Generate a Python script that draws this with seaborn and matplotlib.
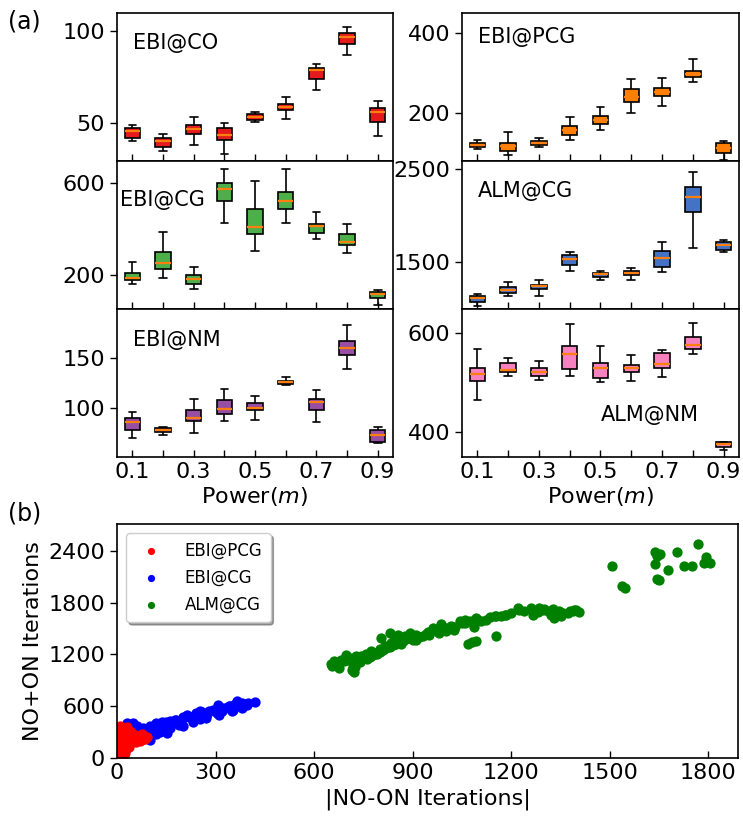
import numpy as np
import pandas as pd
import matplotlib
matplotlib.use("Agg")
import matplotlib.pyplot as plt
import seaborn as sns

sns.set_style("ticks")
plt.rcParams['font.family'] = ['DejaVu Sans']
plt.rcParams.update({'text.color': 'black', 'axes.labelcolor': 'black',
                     'xtick.color': 'black', 'ytick.color': 'black',
                     'axes.edgecolor': 'black'})

# ---- box data (whislo, q1, median, q3, whishi) per power 0.1 .. 0.9 ----
POWERS = ['0.1', '0.2', '0.3', '0.4', '0.5', '0.6', '0.7', '0.8', '0.9']

ebi_co = [[39.7, 41.8, 45.3, 46.9, 48.6], [34.6, 36.8, 39.9, 41.8, 43.7],
          [37.9, 43.7, 46.4, 48.7, 52.9], [32.8, 40.4, 43.5, 47.1, 49.8],
          [50.5, 51.4, 52.9, 54.9, 55.8], [51.8, 56.7, 58.5, 60.3, 63.9],
          [67.9, 73.9, 79.0, 79.9, 82.1], [87.0, 93.1, 97.1, 98.9, 102.4],
          [42.9, 50.5, 55.8, 58.2, 62.1]]
ebi_cg = [[158, 177, 187, 209, 255], [183, 223, 252, 300, 384],
          [136, 159, 180, 196, 232], [423, 519, 571, 601, 659],
          [304, 378, 409, 486, 607], [426, 487, 522, 558, 659],
          [357, 381, 412, 420, 472], [294, 329, 342, 378, 422],
          [67, 97, 114, 123, 133]]
ebi_nm = [[69.6, 77.4, 85.5, 89.2, 95.9], [72.6, 75.7, 77.7, 79.4, 80.4],
          [74.7, 86.8, 89.5, 97.0, 108.8], [86.8, 93.2, 98.3, 107.1, 118.9],
          [87.8, 97.6, 99.0, 104.4, 111.8], [122.6, 123.6, 125.7, 127.0, 130.7],
          [85.5, 97.6, 105.4, 108.1, 117.2], [138.5, 153.4, 160.1, 167.2, 183.4],
          [64.5, 65.2, 72.6, 77.0, 80.7]]
ebi_pcg = [[110.4, 114.5, 120.3, 124.5, 132.8], [93.8, 105.4, 116.2, 125.3, 152.7],
           [113.7, 120.3, 124.5, 129.5, 137.8], [132.8, 144.4, 158.5, 167.6, 190.9],
           [156.8, 172.6, 181.7, 192.5, 215.8], [200.0, 227.4, 240.7, 260.6, 283.8],
           [216.6, 243.2, 252.3, 262.2, 286.3], [276.3, 288.8, 297.9, 305.4, 333.6],
           [82.2, 100.4, 112.9, 125.3, 131.1]]
alm_cg = [[1030, 1070, 1113, 1138, 1156], [1138, 1170, 1203, 1235, 1289],
          [1145, 1210, 1242, 1263, 1310], [1410, 1478, 1536, 1575, 1615],
          [1310, 1349, 1371, 1389, 1410], [1314, 1364, 1389, 1407, 1439],
          [1400, 1450, 1550, 1618, 1722], [1651, 2041, 2206, 2306, 2468],
          [1615, 1636, 1686, 1715, 1744]]
alm_nm = [[464.9, 502.7, 518.2, 529.7, 568.9], [512.8, 522.3, 525.0, 540.5, 550.0],
          [504.7, 513.5, 521.6, 529.1, 542.6], [513.5, 527.7, 557.4, 574.3, 618.2],
          [501.4, 509.5, 529.1, 539.2, 573.6], [502.7, 522.3, 529.7, 535.1, 555.4],
          [510.8, 529.1, 538.5, 559.5, 565.5], [556.8, 568.2, 575.7, 593.2, 620.9],
          [362.8, 368.9, 375.0, 379.1, 380.4]]

# ---- scatter data (|NO-ON|, NO+ON) ----
pcg_x = [2, 5, 8, 10, 12, 15, 18, 20, 5, 3, 25, 30, 22, 35, 40, 28, 45, 50, 55, 60,
         70, 80, 38, 15, 10, 25, 4, 8, 12, 18, 32, 42, 65, 85, 20, 6, 14, 48, 58, 75,
         30, 20, 50, 60, 45, 35, 25, 8, 70, 90]
pcg_y = [340, 300, 250, 200, 150, 100, 60, 30, 120, 80, 350, 290, 250, 230, 260, 180,
         220, 200, 240, 210, 230, 220, 160, 280, 370, 310, 20, 50, 340, 200, 330, 300,
         250, 225, 140, 180, 240, 270, 190, 280,
         360, 330, 280, 260, 190, 130, 60, 10, 200, 240]
cg_x = [419, 384, 364, 344, 308, 293, 252, 242, 212, 202, 181, 161, 136, 121, 100,
        90, 70, 50, 45, 29, 19, 9, 60, 40, 100, 152, 202, 252, 303, 354, 50, 29,
        330, 275, 225, 170, 110, 80, 395, 320, 265, 190, 145, 125, 60, 35,
        60, 80, 120, 150, 175, 200, 220, 240, 260, 280, 300, 320, 340, 360, 380, 400,
        30, 40, 20, 30, 70, 90, 130, 160, 190, 230, 270, 310, 350, 380, 120, 25, 15]
cg_y = [648, 628, 655, 598, 617, 560, 540, 501, 501, 463, 443, 424, 412, 386, 366,
        308, 289, 270, 193, 116, 58, 19, 366, 386, 212, 289, 366, 451, 521, 560, 405,
        405, 580, 510, 470, 420, 330, 300, 610, 540, 490, 400, 350, 330, 240, 160,
        330, 350, 400, 420, 440, 470, 480, 520, 530, 550, 560, 580, 600, 620, 640, 640,
        250, 300, 150, 200, 250, 270, 300, 350, 380, 420, 460, 500, 540, 580, 280, 90, 40]
alm_x = [1505, 1536, 1545, 1637, 1653, 1642, 1703, 1767, 1637, 1676, 1643, 1650,
         1726, 1749, 1792, 1785, 1806,
         1223, 1260, 1267, 1284, 1296, 1311, 1328, 1331, 1341, 1357, 1372, 1387, 1397,
         1154, 1169, 1184, 1154, 1068, 1093, 1081,
         652, 668, 683, 698, 708, 718, 728, 744, 759, 774, 784, 799, 804, 815, 830,
         835, 845, 855, 865, 875, 891, 901, 911, 931, 946, 961, 977, 987, 1002, 1017,
         1027, 1043, 1058, 1073, 1085, 1093, 1108, 1124, 1134,
         655, 670, 690, 715, 725, 740, 760, 780, 800, 820, 840, 860, 880, 900, 920,
         950, 980, 1000, 1030, 1060, 1090, 1180, 1240, 1280, 1320, 1345, 1380, 1405,
         700, 735, 770, 790, 810, 830, 850, 870, 890, 910, 940, 970, 1010, 1050, 1100,
         1150, 1200, 1220, 1300, 1350, 1390, 660, 676, 720]
alm_y = [2218, 1994, 1967, 2380, 2364, 2341, 2384, 2484, 2245, 2179, 2071, 2064,
         2222, 2218, 2326, 2264, 2257,
         1716, 1736, 1658, 1736, 1709, 1697, 1724, 1620, 1678, 1685, 1678, 1697, 1716,
         1639, 1647, 1658, 1408, 1323, 1350, 1338,
         1091, 1107, 1138, 1195, 1157, 1068, 1176, 1184, 1207, 1242, 1215, 1261, 1388,
         1300, 1446, 1331, 1377, 1427, 1323, 1408, 1446, 1408, 1361, 1408, 1465, 1504,
         1465, 1554, 1504, 1531, 1485, 1581, 1593, 1581, 1516, 1620, 1589, 1600, 1631,
         1060, 1080, 1120, 1020, 1050, 1110, 1150, 1190, 1230, 1270, 1310, 1330, 1380,
         1370, 1400, 1420, 1450, 1470, 1520, 1560, 1580, 1660, 1700, 1690, 1660, 1700,
         1700, 1690,
         1140, 1130, 1170, 1210, 1250, 1290, 1320, 1360, 1390, 1420, 1440, 1480, 1510,
         1560, 1600, 1640, 1680, 1740, 1720, 1650, 1710, 1120, 1040, 1000]

panels = [
    # name, data, color, ylim, yticks, text pos, axes rect (px)
    ('EBI@CO', ebi_co, '#e41a1c', (29, 110), [50, 100], (0.058, 0.80),
     [117, 13, 276, 148]),
    ('EBI@CG', ebi_cg, '#4daf4a', (50, 695), [200, 600], (0.011, 0.735),
     [117, 161, 276, 148]),
    ('EBI@NM', ebi_nm, '#984ea3', (50, 199.5), [100, 150], (0.058, 0.79),
     [117, 309, 276, 148]),
    ('EBI@PCG', ebi_pcg, '#ff7f00', (80, 449), [200, 400], (0.058, 0.838),
     [462, 13, 277, 148]),
    ('ALM@CG', alm_cg, '#4472c4', (1000, 2590), [1500, 2500], (0.058, 0.80),
     [462, 161, 277, 148]),
    ('ALM@NM', alm_nm, '#f781bf', (349, 649), [400, 600], (0.50, 0.284),
     [462, 309, 277, 148]),
]

W, H = 743, 822
fig = plt.figure(figsize=(W / 100, H / 100), dpi=100)


def rect(x, y, w, h):
    return [x / W, 1 - (y + h) / H, w / W, h / H]


for i, (name, stats, color, ylim, yticks, tpos, r) in enumerate(panels):
    ax = fig.add_axes(rect(*r))
    df = pd.DataFrame({'power': np.repeat(POWERS, 5),
                       'value': np.array(stats).ravel()})
    sns.boxplot(data=df, x='power', y='value', order=POWERS, ax=ax,
                color=color, saturation=1, width=0.5, whis=(0, 100),
                linecolor='black', linewidth=1.2,
                medianprops={'color': '#ff7f0e', 'linewidth': 1.6})
    ax.set_ylim(*ylim)
    ax.set_xlim(-0.5, 8.5)
    ax.set_yticks(yticks)
    ax.set_xticks(range(9))
    ax.set_xlabel('')
    ax.set_ylabel('')
    ax.tick_params(axis='x', direction='in', length=5, width=1, labelsize=16)
    ax.tick_params(axis='y', direction='out', length=5, width=1, labelsize=16)
    if i % 3 == 2:
        ax.set_xticklabels([p if k % 2 == 0 else '' for k, p in enumerate(POWERS)])
        ax.set_xlabel('Power($m$)', fontsize=16, labelpad=2)
    else:
        ax.set_xticklabels([])
    for s in ax.spines.values():
        s.set_linewidth(1.2)
    ax.text(tpos[0], tpos[1], name, transform=ax.transAxes, fontsize=15,
            va='center', ha='left')

# ---- (b) scatter ----
axb = fig.add_axes(rect(117, 524, 621, 234))
sdf = pd.DataFrame({
    'x': pcg_x + cg_x + alm_x,
    'y': pcg_y + cg_y + alm_y,
    'method': ['EBI@PCG'] * len(pcg_x) + ['EBI@CG'] * len(cg_x) + ['ALM@CG'] * len(alm_x),
})
# blue/green first, red on top like the reference
for m, c in [('ALM@CG', 'green'), ('EBI@CG', 'blue'), ('EBI@PCG', 'red')]:
    sub = sdf[sdf['method'] == m]
    sns.scatterplot(data=sub, x='x', y='y', color=c, s=55, linewidth=0,
                    ax=axb, label=m)
axb.set_xlim(0, 1890)
axb.set_ylim(0, 2710)
axb.set_xticks([0, 300, 600, 900, 1200, 1500, 1800])
axb.set_yticks([0, 600, 1200, 1800, 2400])
axb.tick_params(axis='x', direction='in', length=5, width=1, labelsize=16)
axb.tick_params(axis='y', direction='out', length=5, width=1, labelsize=16)
axb.set_xlabel('|NO-ON Iterations|', fontsize=16)
axb.set_ylabel('NO+ON Iterations', fontsize=16)
for s in axb.spines.values():
    s.set_linewidth(1.2)
handles, labels = axb.get_legend_handles_labels()
order = [labels.index(l) for l in ['EBI@PCG', 'EBI@CG', 'ALM@CG']]
axb.legend([handles[k] for k in order], [labels[k] for k in order],
           loc='upper left', fontsize=12, shadow=True, fancybox=True,
           markerscale=0.7, borderpad=0.5, labelspacing=0.55,
           handlelength=2.0, handletextpad=1.0, borderaxespad=0.55)

fig.text(8 / W, 1 - 22 / H, '(a)', fontsize=17, va='center', ha='left')
fig.text(8 / W, 1 - 513 / H, '(b)', fontsize=17, va='center', ha='left')

fig.savefig('out.png', dpi=100)
